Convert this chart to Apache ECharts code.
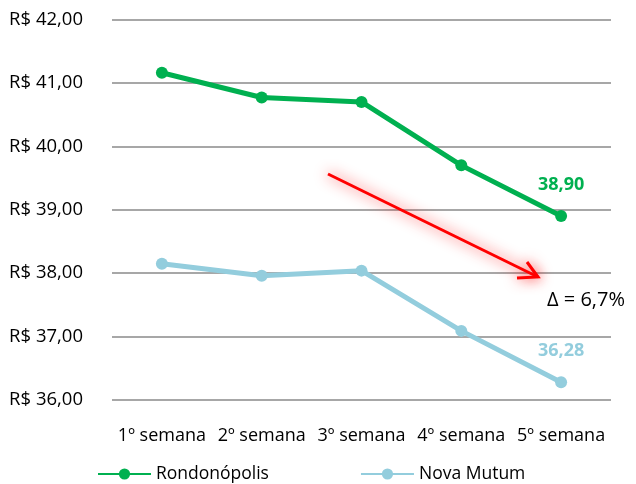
<!DOCTYPE html>
<html>
<head>
<meta charset="utf-8">
<script src="https://cdn.jsdelivr.net/npm/echarts@6/dist/echarts.min.js"></script>
<style>html,body{margin:0;padding:0;background:#fff}#c{width:636px;height:484px}</style>
</head>
<body>
<div id="c"></div>
<script>
var categories = ['1º semana', '2º semana', '3º semana', '4º semana', '5º semana'];
var rondonopolis = [41.16, 40.77, 40.70, 39.70, 38.90];
var novaMutum = [38.15, 37.96, 38.04, 37.09, 36.28];
var seriesNames = ['Rondonópolis', 'Nova Mutum'];
var deltaText = 'Δ = 6,7%';

var FONT = '"Open Sans", "Noto Sans", sans-serif';
var GREEN = '#00B050', BLUE = '#93CDDD';

function lastLabel(arr, color) {
  return arr.map(function (v, i) {
    if (i !== arr.length - 1) return v;
    return {
      value: v,
      label: {
        show: true, position: 'top', distance: 16,
        formatter: function (p) { return p.value.toFixed(2).replace('.', ','); },
        color: color, fontWeight: 'bold', fontSize: 18, fontFamily: FONT
      }
    };
  });
}

var chart = echarts.init(document.getElementById('c'));
chart.setOption({
  animation: false,
  grid: { left: 112, right: 25, top: 19.5, bottom: 84 },
  xAxis: {
    type: 'category', data: categories, boundaryGap: true,
    axisLine: { show: false }, axisTick: { show: false },
    axisLabel: { color: '#000', fontSize: 18, fontFamily: FONT, margin: 27, interval: 0 }
  },
  yAxis: {
    type: 'value', min: 36, max: 42, interval: 1,
    axisLine: { show: false }, axisTick: { show: false },
    axisLabel: {
      color: '#000', fontSize: 18.5, fontFamily: FONT, margin: 29,
      formatter: function (v) { return 'R$ ' + v.toFixed(2).replace('.', ','); }
    },
    splitLine: { lineStyle: { color: '#8a8a8a', width: 1.5 } }
  },
  legend: {
    bottom: 1, left: 97, padding: 0, itemWidth: 53, itemHeight: 14, itemGap: 91,
    textStyle: { color: '#000', fontSize: 17.5, fontFamily: FONT },
    data: seriesNames
  },
  series: [
    {
      name: seriesNames[0], type: 'line', data: lastLabel(rondonopolis, GREEN),
      symbol: 'circle', symbolSize: 12,
      lineStyle: { color: GREEN, width: 5 }, itemStyle: { color: GREEN }
    },
    {
      name: seriesNames[1], type: 'line', data: lastLabel(novaMutum, BLUE),
      symbol: 'circle', symbolSize: 12,
      lineStyle: { color: BLUE, width: 5 }, itemStyle: { color: BLUE }
    }
  ],
  graphic: [
    {
      type: 'polyline', z: 10,
      shape: { points: [[328, 174], [538, 277]] },
      style: { stroke: '#FF0000', lineWidth: 3, shadowBlur: 14, shadowColor: 'rgba(255,0,0,0.85)' }
    },
    {
      type: 'polyline', z: 10,
      shape: { points: [[527, 262], [538, 277], [517, 278]] },
      style: { stroke: '#FF0000', lineWidth: 3, fill: null, shadowBlur: 14, shadowColor: 'rgba(255,0,0,0.85)' }
    },
    {
      type: 'text', left: 547, top: 290, z: 10,
      style: { text: deltaText, fill: '#000', fontSize: 20, fontFamily: FONT }
    }
  ]
});
</script>
</body>
</html>
